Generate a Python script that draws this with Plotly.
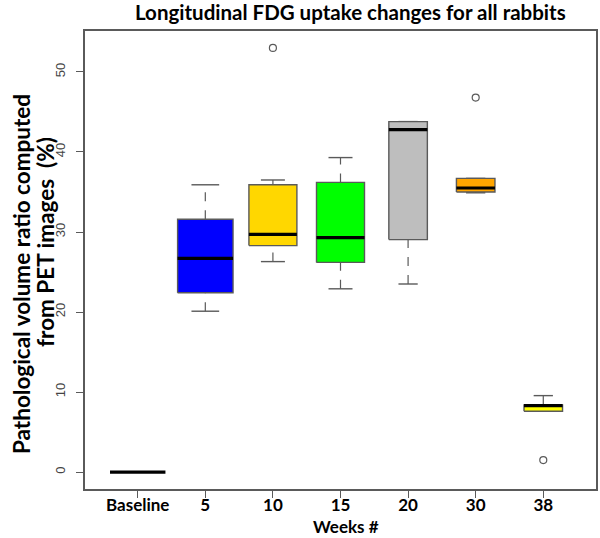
import plotly.graph_objects as go

# ---- data ----
categories = ["Baseline", "5", "10", "15", "20", "30", "38"]
lower_whisker = [0.0, 20.1, 26.3, 22.9, 23.5, 34.9, 7.6]
q1 = [0.0, 22.4, 28.3, 26.2, 29.05, 35.0, 7.6]
median = [0.0, 26.7, 29.7, 29.3, 42.8, 35.5, 8.3]
q3 = [0.0, 31.6, 35.9, 36.2, 43.8, 36.7, 8.4]
upper_whisker = [0.0, 35.9, 36.5, 39.3, 43.8, 36.7, 9.55]
outlier_cats = ["10", "30", "38"]
outlier_vals = [53.0, 46.8, 1.5]

# ---- styles ----
fill_colors = ["#FFFFFF", "#0000FF", "#FFD700", "#00FF00", "#BEBEBE", "#FFA500", "#FFFF00"]
box_widths = [0.82, 0.82, 0.71, 0.71, 0.57, 0.57, 0.57]
outline = "#5a5a5a"
FONT = "Lato"

L, R, T, B = 85, 4, 31, 49
W, H = 600, 538
PW, PH = W - L - R, H - T - B


def px(xp):
    return (xp - L) / PW


def py(yp):
    return (H - B - yp) / PH


fig = go.Figure()

for i, cat in enumerate(categories):
    w = box_widths[i]
    xl, xr = i - w / 2, i + w / 2
    if q3[i] > q1[i]:
        if upper_whisker[i] > q3[i]:
            fig.add_trace(go.Scatter(x=[i, i], y=[q3[i], upper_whisker[i]], mode="lines",
                                     line=dict(color=outline, width=1.2, dash="dash"),
                                     hoverinfo="skip", showlegend=False))
        if lower_whisker[i] < q1[i]:
            fig.add_trace(go.Scatter(x=[i, i], y=[lower_whisker[i], q1[i]], mode="lines",
                                     line=dict(color=outline, width=1.2, dash="dash"),
                                     hoverinfo="skip", showlegend=False))
        for v in (upper_whisker[i], lower_whisker[i]):
            fig.add_trace(go.Scatter(x=[i - w / 4, i + w / 4], y=[v, v], mode="lines",
                                     line=dict(color=outline, width=1.4),
                                     hoverinfo="skip", showlegend=False))
        fig.add_trace(go.Scatter(x=[xl, xr, xr, xl, xl], y=[q1[i], q1[i], q3[i], q3[i], q1[i]],
                                 mode="lines", fill="toself", fillcolor=fill_colors[i],
                                 line=dict(color=outline, width=1.4),
                                 hoverinfo="skip", showlegend=False))
    fig.add_trace(go.Scatter(x=[xl, xr], y=[median[i], median[i]], mode="lines",
                             line=dict(color="black", width=3.2),
                             hoverinfo="skip", showlegend=False))

fig.add_trace(go.Scatter(x=[categories.index(c) for c in outlier_cats], y=outlier_vals,
                         mode="markers",
                         marker=dict(symbol="circle-open", size=7, color=outline, line=dict(width=1.2)),
                         hoverinfo="skip", showlegend=False))

bold = dict(family=FONT, color="black", weight="bold")

fig.update_layout(
    width=W, height=H,
    margin=dict(l=L, r=R, t=T, b=B),
    paper_bgcolor="white", plot_bgcolor="white",
    xaxis=dict(
        range=[-0.78, 6.78], tickmode="array", tickvals=list(range(len(categories))),
        ticktext=categories, ticks="outside", ticklen=7, tickcolor=outline, tickwidth=1.2,
        showgrid=False, zeroline=False, showline=True, linecolor=outline, linewidth=1.5,
        mirror=True, automargin=False, ticklabelstandoff=-7,
        tickfont=dict(size=17, **bold),
    ),
    yaxis=dict(
        range=[-2.12, 55.12], tickmode="array", tickvals=[0, 10, 20, 30, 40, 50],
        ticks="outside", ticklen=7, tickcolor=outline, tickwidth=1.2, tickangle=-90,
        showgrid=False, zeroline=False, showline=True, linecolor=outline, linewidth=1.5,
        mirror=True, automargin=False, ticklabelstandoff=6,
        tickfont=dict(family="Liberation Sans", size=13, color="#444444"),
    ),
    annotations=[
        dict(text="Longitudinal FDG uptake changes for all rabbits", x=px(350), y=py(12),
             xref="paper", yref="paper", showarrow=False, xanchor="center", yanchor="middle",
             font=dict(size=20.5, **bold)),
        dict(text="Weeks #", x=px(346), y=py(538), xref="paper", yref="paper", showarrow=False,
             xanchor="center", yanchor="bottom", borderpad=0, font=dict(size=17, **bold)),
        dict(text="Pathological volume ratio computed", x=px(21), y=py(274),
             xref="paper", yref="paper", showarrow=False, textangle=-90,
             xanchor="center", yanchor="middle", font=dict(size=22.5, **bold)),
        dict(text="from PET images  (%)", x=px(45), y=py(242),
             xref="paper", yref="paper", showarrow=False, textangle=-90,
             xanchor="center", yanchor="middle", font=dict(size=22.5, **bold)),
    ],
)

fig.write_html("out.html", config={"displayModeBar": False},
               post_script="document.body.style.margin='0px';")
